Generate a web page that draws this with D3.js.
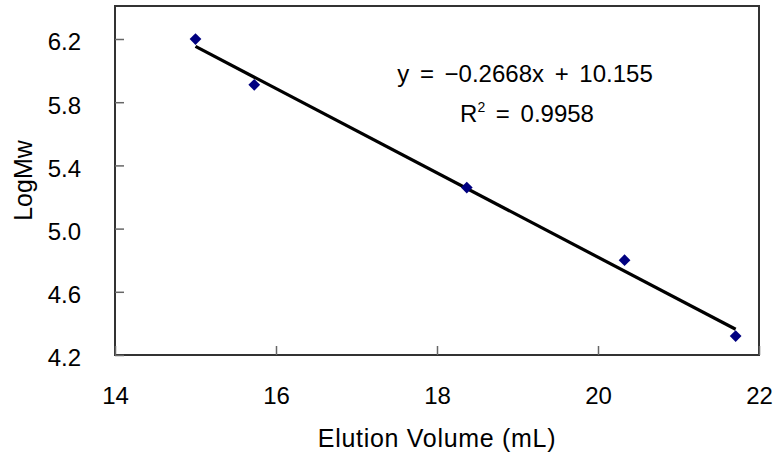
<!DOCTYPE html>
<html>
<head>
<meta charset="utf-8">
<script src="https://cdn.jsdelivr.net/npm/d3@7"></script>
<style>
  body { margin: 0; background: #fff; }
  svg text { font-family: "Liberation Sans", Arial, sans-serif; fill: #000; }
</style>
</head>
<body>
<div id="chart"></div>
<script>
// elution volume (mL) vs log molecular weight
const elution = [15.0, 15.73, 18.37, 20.33, 21.71]
const logMw = [6.2, 5.91, 5.26, 4.80, 4.32]
const xTicks = [14, 16, 18, 20, 22]
const yTicks = [4.2, 4.6, 5.0, 5.4, 5.8, 6.2]
const slope = -0.2668
const intercept = 10.155
const eqText = "y = \u22120.2668x + 10.155"
const r2Value = "0.9958"

const width = 774
const height = 453
const margin = {top: 6, right: 15, bottom: 98, left: 115}

const svg = d3.select("#chart").append("svg")
  .attr("width", width)
  .attr("height", height)

const x = d3.scaleLinear().domain([14, 22]).range([margin.left, width - margin.right])
const y = d3.scaleLinear().domain([4.2, 6.2]).range([height - margin.bottom, 39])

const plotTop = margin.top
const plotBottom = height - margin.bottom

// plot frame
svg.append("rect")
  .attr("x", x(14)).attr("y", plotTop)
  .attr("width", x(22) - x(14)).attr("height", plotBottom - plotTop)
  .attr("fill", "none").attr("stroke", "#333").attr("stroke-width", 2)

// axes, ticks drawn inward
const xAxis = svg.append("g")
  .attr("transform", `translate(0,${plotBottom})`)
  .call(d3.axisBottom(x).tickValues(xTicks).tickSizeInner(-9).tickSizeOuter(0).tickPadding(32).tickFormat(d3.format("d")))
const yAxis = svg.append("g")
  .attr("transform", `translate(${margin.left},0)`)
  .call(d3.axisLeft(y).tickValues(yTicks).tickSizeInner(-9).tickSizeOuter(0).tickPadding(34).tickFormat(d3.format(".1f")))

for (const g of [xAxis, yAxis]) {
  g.select(".domain").remove()
  g.selectAll(".tick line").attr("stroke", "#666").attr("stroke-width", 1.5)
  g.selectAll(".tick text").attr("font-size", 24).attr("fill", "#000")
    .style("font-family", "'Liberation Sans', Arial, sans-serif")
}
yAxis.selectAll(".tick text").attr("dy", "0.45em")

// trendline
const xs = d3.extent(elution)
svg.append("line")
  .attr("x1", x(xs[0])).attr("y1", y(slope * xs[0] + intercept))
  .attr("x2", x(xs[1])).attr("y2", y(slope * xs[1] + intercept))
  .attr("stroke", "#000").attr("stroke-width", 3.2)

// data markers
svg.selectAll("path.pt")
  .data(elution.map((d, i) => ({x: d, y: logMw[i]})))
  .enter().append("path")
  .attr("class", "pt")
  .attr("d", d3.symbol().type(d3.symbolDiamond2).size(88))
  .attr("transform", d => `translate(${x(d.x)},${y(d.y)})`)
  .attr("fill", "#000080")

// equation
svg.append("text")
  .attr("x", 525).attr("y", 82)
  .attr("text-anchor", "middle").attr("font-size", 24)
  .attr("word-spacing", 4)
  .text(eqText)
const r2 = svg.append("text")
  .attr("x", 527).attr("y", 122)
  .attr("text-anchor", "middle").attr("font-size", 24)
  .attr("word-spacing", 4)
r2.append("tspan").text("R")
r2.append("tspan").attr("dy", -10).attr("font-size", 14).text("2")
r2.append("tspan").attr("dy", 10).text(" = " + r2Value)

// axis titles
svg.append("text")
  .attr("x", (x(14) + x(22)) / 2).attr("y", 447)
  .attr("text-anchor", "middle").attr("font-size", 25)
  .attr("letter-spacing", 0.7)
  .text("Elution Volume (mL)")
svg.append("text")
  .attr("transform", `translate(32,${(plotTop + plotBottom) / 2}) rotate(-90)`)
  .attr("text-anchor", "middle").attr("font-size", 25)
  .text("LogMw")
</script>
</body>
</html>
